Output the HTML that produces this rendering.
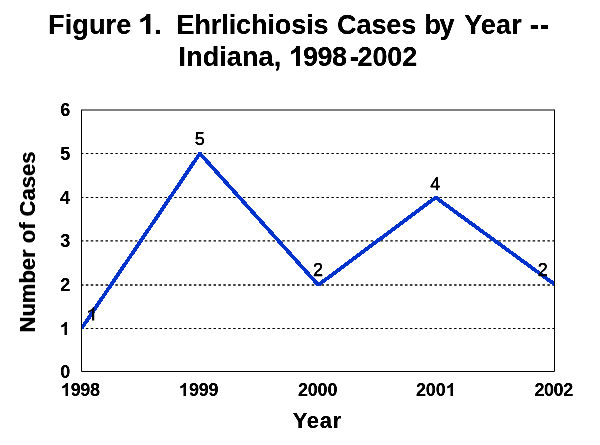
<!DOCTYPE html>
<html><head><meta charset="utf-8">
<style>
html,body{margin:0;padding:0;background:#fff;}
body{width:600px;height:445px;position:relative;overflow:hidden;font-family:"Liberation Sans",sans-serif;color:#000;}
.t{position:absolute;white-space:pre;line-height:1;transform-origin:0 0;}
svg.ch{position:absolute;left:0;top:0;}
.t{filter:url(#al);}
.one{display:inline-block;width:0.5562em;height:0.71875em;vertical-align:baseline;overflow:visible;}
</style></head><body>
<svg width="0" height="0" style="position:absolute"><defs>
<filter id="al" x="-5%" y="-5%" width="110%" height="110%" color-interpolation-filters="sRGB"><feComponentTransfer><feFuncA type="linear" slope="1.9" intercept="-0.22"/></feComponentTransfer></filter>
</defs></svg>
<svg class="ch" width="600" height="445" viewBox="0 0 600 445">
  <defs><clipPath id="pc"><rect x="81" y="100" width="474" height="280"/></clipPath></defs>
  <g stroke="#000" stroke-width="1" stroke-dasharray="2.5,2.41" fill="none">
    <path d="M80.94 153.5 H554"/>
    <path d="M80.94 197.5 H554"/>
    <path d="M80.94 240.9 H554" stroke-width="1.4"/>
    <path d="M80.94 285 H554" stroke-width="1.4"/>
    <path d="M80.94 328.5 H554"/>
  </g>
  <polyline clip-path="url(#pc)" shape-rendering="crispEdges" points="81.5,328.5 199.9,153.5 318.3,285 435.7,197.5 555.5,285" fill="none" stroke="#0033cc" stroke-width="3.8" stroke-linejoin="bevel" stroke-linecap="butt"/>
  <g fill="none">
    <path d="M81 110 H555" stroke="#808080" stroke-width="2"/>
    <path d="M81.5 110 V371.5 H554.5 V110" stroke="#000" stroke-width="1"/>
  </g>
  <path d="M94.2 320.6 V307.4 H92.75 C92.3 308.5 90.6 310.1 88 311.1 V313.1 C89.5 312.6 91.1 311.6 92 310.6 V320.6 Z" fill="#000"/>
</svg>
<div class="t" id="a1" style="left:48.06px;top:12.00px;font-size:27px;font-weight:bold;letter-spacing:0.128px;">Figure</div>
<div class="t" id="a2" style="left:138.25px;top:12.00px;font-size:27px;font-weight:bold;transform:scale(1.1590,1.0000);transform-origin:0 0px;"><svg class="one" style="height:20px;position:relative;top:-0.5px" viewBox="0 0 1139 1472" preserveAspectRatio="none"><path d="M806 1472H525V413Q371 557 162 626V371Q272 335 401 234.5T578 0H806Z"/></svg></div>
<div class="t" id="a2b" style="left:154.03px;top:12.00px;font-size:27px;font-weight:bold;">.</div>
<div class="t" id="a3" style="left:176.47px;top:12.00px;font-size:27px;font-weight:bold;letter-spacing:-0.084px;">Ehrlichiosis</div>
<div class="t" id="a4" style="left:337.00px;top:12.00px;font-size:27px;font-weight:bold;letter-spacing:-0.055px;">Cases</div>
<div class="t" id="a5" style="left:424.56px;top:12.00px;font-size:27px;font-weight:bold;letter-spacing:-1.506px;">by</div>
<div class="t" id="a6" style="left:464.15px;top:12.00px;font-size:27px;font-weight:bold;letter-spacing:0.175px;">Year</div>
<div class="t" id="a7" style="left:529.80px;top:12.00px;font-size:27px;font-weight:bold;letter-spacing:1.122px;transform:scale(1.0000,1.2500);transform-origin:0 12.6px;">--</div>
<div class="t" id="b1" style="left:178.58px;top:44.00px;font-size:27px;font-weight:bold;letter-spacing:0.077px;">Indiana,</div>
<div class="t" id="b2" style="left:288.60px;top:44.00px;font-size:27px;font-weight:bold;letter-spacing:-0.515px;"><svg class="one" style="margin-right:-0.515px;height:20px;position:relative;top:-0.5px" viewBox="0 0 1139 1472" preserveAspectRatio="none"><path d="M806 1472H525V413Q371 557 162 626V371Q272 335 401 234.5T578 0H806Z"/></svg>998</div>
<div class="t" id="b3" style="left:349.64px;top:44.00px;font-size:27px;font-weight:bold;transform:scale(1.0000,1.2500);transform-origin:0 12.6px;">-</div>
<div class="t" id="b4" style="left:357.61px;top:44.00px;font-size:27px;font-weight:bold;letter-spacing:-0.162px;">2002</div>
<div class="t" id="x0" style="left:61.10px;top:381.00px;font-size:18px;font-weight:bold;letter-spacing:-0.400px;"><svg style="margin-right:-0.400px" class="one" viewBox="0 0 1139 1472" preserveAspectRatio="none"><path d="M806 1472H525V413Q371 557 162 626V371Q272 335 401 234.5T578 0H806Z"/></svg>998</div>
<div class="t" id="x1" style="left:179.20px;top:381.00px;font-size:18px;font-weight:bold;letter-spacing:-0.241px;"><svg style="margin-right:-0.241px" class="one" viewBox="0 0 1139 1472" preserveAspectRatio="none"><path d="M806 1472H525V413Q371 557 162 626V371Q272 335 401 234.5T578 0H806Z"/></svg>999</div>
<div class="t" id="x2" style="left:297.90px;top:381.00px;font-size:18px;font-weight:bold;letter-spacing:-0.150px;">2000</div>
<div class="t" id="x3" style="left:415.90px;top:381.00px;font-size:18px;font-weight:bold;letter-spacing:-0.135px;">200<svg style="margin-right:-0.135px" class="one" viewBox="0 0 1139 1472" preserveAspectRatio="none"><path d="M806 1472H525V413Q371 557 162 626V371Q272 335 401 234.5T578 0H806Z"/></svg></div>
<div class="t" id="x4" style="left:534.40px;top:381.00px;font-size:18px;font-weight:bold;letter-spacing:-0.430px;">2002</div>
<div class="t" id="yr" style="left:292.65px;top:410.00px;font-size:22px;font-weight:bold;letter-spacing:0.736px;">Year</div>
<div class="t" id="y6" style="left:60.20px;top:101.00px;font-size:18px;font-weight:bold;">6</div>
<div class="t" id="y5" style="left:60.20px;top:145.00px;font-size:18px;font-weight:bold;">5</div>
<div class="t" id="y4" style="left:60.09px;top:189.00px;font-size:18px;font-weight:bold;">4</div>
<div class="t" id="y3" style="left:60.20px;top:232.00px;font-size:18px;font-weight:bold;">3</div>
<div class="t" id="y2" style="left:60.20px;top:276.00px;font-size:18px;font-weight:bold;">2</div>
<div class="t" id="y1" style="left:60.04px;top:320.00px;font-size:18px;font-weight:bold;"><svg class="one" viewBox="0 0 1139 1472" preserveAspectRatio="none"><path d="M806 1472H525V413Q371 557 162 626V371Q272 335 401 234.5T578 0H806Z"/></svg></div>
<div class="t" id="y0" style="left:60.20px;top:363.00px;font-size:18px;font-weight:bold;">0</div>
<div class="t" id="d1" style="left:194.76px;top:130.00px;font-size:18px;font-weight:normal;-webkit-text-stroke:0.25px #000;">5</div>
<div class="t" id="d2" style="left:312.92px;top:261.00px;font-size:18px;font-weight:normal;-webkit-text-stroke:0.25px #000;">2</div>
<div class="t" id="d3" style="left:430.36px;top:175.00px;font-size:18px;font-weight:normal;-webkit-text-stroke:0.25px #000;">4</div>
<div class="t" id="d4" style="left:537.72px;top:261.00px;font-size:18px;font-weight:normal;-webkit-text-stroke:0.25px #000;">2</div>
<div class="t" id="nc" style="font-weight:bold;font-size:22px;left:28.4px;top:241.65px;transform:translate(-50%,-50%) rotate(-90deg);transform-origin:50% 50%;">Number of Cases</div>
</body></html>
